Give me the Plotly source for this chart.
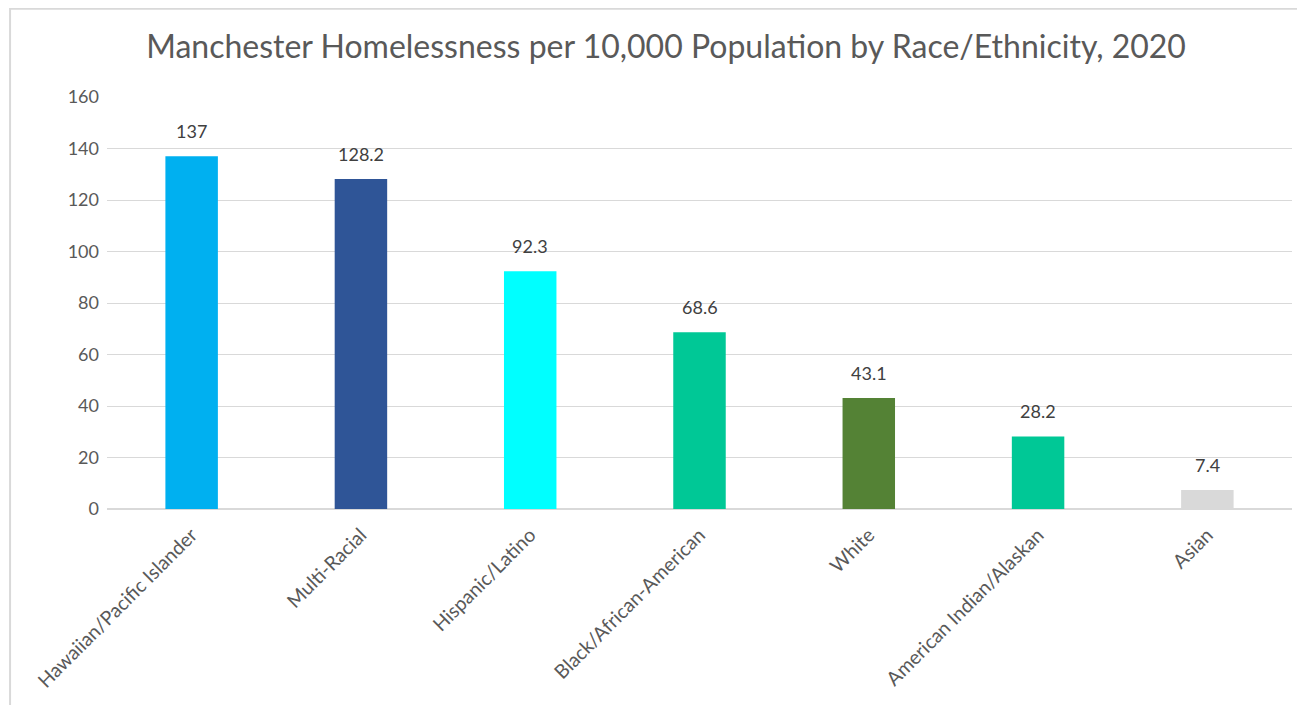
import plotly.graph_objects as go

categories = ["Hawaiian/Pacific Islander", "Multi-Racial", "Hispanic/Latino",
              "Black/African-American", "White", "American Indian/Alaskan", "Asian"]
rates = [137, 128.2, 92.3, 68.6, 43.1, 28.2, 7.4]
rate_labels = ["137", "128.2", "92.3", "68.6", "43.1", "28.2", "7.4"]
bar_colors = ["#00B0F0", "#2F5597", "#00FFFF", "#00C896", "#548235", "#00C896", "#D9D9D9"]

# the page body has an 8px margin, so the figure is a bit smaller than the window
fig = go.Figure(go.Bar(x=categories, y=rates, marker_color=bar_colors, marker_line_width=0))

for cat, val, lab in zip(categories, rates, rate_labels):
    fig.add_annotation(x=cat, y=val, text=lab, showarrow=False, yanchor="middle", yshift=25,
                       font=dict(size=18, color="#404040"))

fig.update_layout(
    width=1289, height=697,
    margin=dict(l=99, r=5, t=89, b=196, autoexpand=False),
    paper_bgcolor="white", plot_bgcolor="white",
    font=dict(family="Lato, Open Sans, sans-serif", color="#595959"),
    title=dict(text="Manchester Homelessness per 10,000 Population by Race/Ethnicity, 2020",
               x=0.5105, xref="container", xanchor="center", y=0.944, yref="container",
               yanchor="middle", font=dict(size=32, color="#595959")),
    bargap=0.69,
    showlegend=False,
    shapes=[dict(type="rect", xref="paper", yref="paper",
                 x0=-0.0818, x1=1.05, y0=-0.6, y1=1.214,
                 line=dict(color="#D9D9D9", width=2))],
)
fig.update_yaxes(range=[0, 160], dtick=20, showgrid=True, gridcolor="#D9D9D9",
                 zeroline=True, zerolinecolor="#D9D9D9", automargin=False,
                 tickfont=dict(size=18, color="#595959"), ticklabelstandoff=7)
fig.update_xaxes(tickangle=-45, tickfont=dict(size=19.5, color="#595959"), automargin=False,
                 showline=True, linecolor="#D9D9D9", ticklabelstandoff=6)

fig.write_html("out.html")
